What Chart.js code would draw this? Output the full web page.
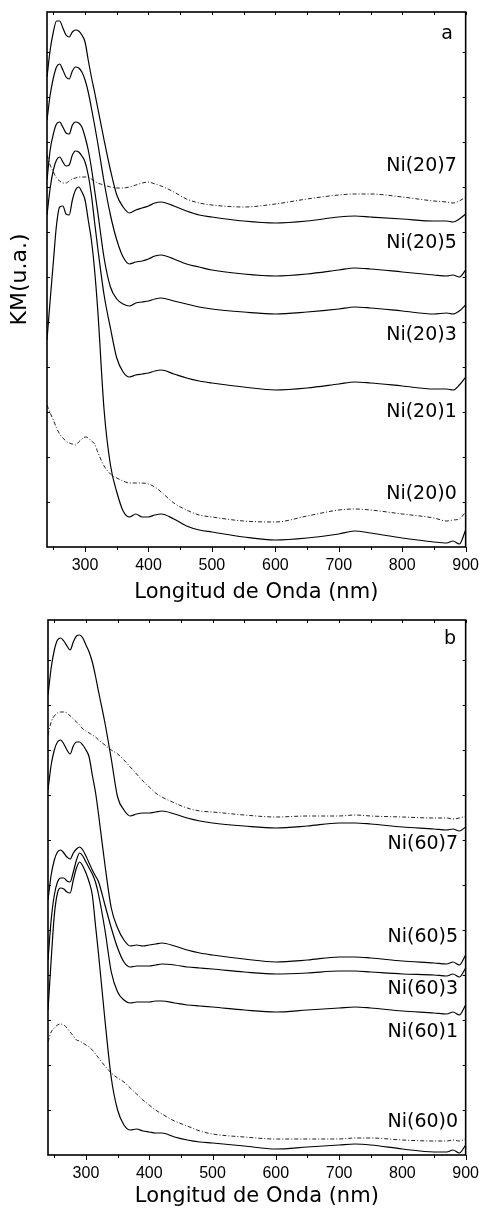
<!DOCTYPE html>
<html><head><meta charset="utf-8">
<script src="https://cdn.jsdelivr.net/npm/chart.js@4.4.1/dist/chart.umd.min.js"></script>
<style>
html,body{margin:0;padding:0;background:#fff;}
#wrap{position:relative;width:488px;height:1209px;overflow:hidden;}
#ca{position:absolute;left:0;top:0;}
#cb{position:absolute;left:0;top:605px;}
</style></head><body>
<div id="wrap"><canvas id="ca" width="488" height="605"></canvas><canvas id="cb" width="488" height="604"></canvas></div>
<script>
// ---- shared wavelength grid (nm) ----
const wavelengths = [240,245,250,255,260,265,270,275,280,285,290,295,300,305,310,315,320,330,340,350,360,370,380,390,400,410,420,440,460,480,500,550,600,650,700,725,750,800,850,870,880,890,900];

// ---- panel a series (KM, u.a.) ----
const ni20_7 = [470,497,515,526,526,519,512,510,515,517,516,512,505,487,470,455,439,407,377,352,340,334,337,339,341,344,345,341,336,332,330,326,324,326,330,331,330,328,326,326,325,328,333];
const ni20_5 = [427,452,469,480,483,477,470,468,476,480,479,475,467,455,439,422,404,365,332,307,290,283,285,286,288,291,292,288,283,280,277,273,271,273,277,279,278,275,272,271,272,270,277];
const ni20_3 = [367,397,413,423,425,420,414,413,422,425,424,420,410,397,379,357,335,289,260,248,243,241,244,245,246,248,249,246,243,240,238,235,233,235,238,240,239,236,233,234,233,236,242];
const ni20_1 = [332,359,377,387,390,385,381,382,392,396,395,391,385,372,352,325,299,252,219,189,175,170,172,173,174,176,177,173,169,166,164,160,157,159,163,165,164,161,158,158,157,162,170];
const ni20_0 = [207,247,285,322,340,341,333,332,347,357,360,355,347,327,307,277,237,137,82,55,36,30,33,30,30,32,33,28,21,17,15,10,7,9,13,16,14,9,5,4,6,3,17];
const ref20_hi = [392,382,375,369,366,364,364,366,368,369,370,370,370,370,368,366,364,362,360,359,359,360,362,364,365,363,361,355,348,344,342,340,343,348,352,353,353,350,346,345,344,346,350];
const ref20_lo = [142,134,127,119,113,109,106,104,103,102,105,108,110,109,106,103,95,81,73,69,66,64,64,64,63,60,55,44,37,32,30,26,25,31,37,38,37,33,29,26,27,28,35];

// ---- panel b series (KM, u.a.) ----
const ni60_7 = [460,487,505,515,517,514,509,505,513,519,520,517,510,503,493,479,463,432,396,358,345,339,341,342,342,343,344,341,337,334,332,329,327,329,332,332,331,328,326,325,326,324,328];
const ni60_5 = [365,390,405,413,415,411,405,401,409,413,413,410,405,398,380,363,340,290,247,227,215,209,210,209,210,211,212,209,205,202,200,196,193,195,198,198,197,194,192,191,193,190,200];
const ni60_3 = [255,280,295,303,305,302,298,296,302,306,308,305,299,292,285,279,273,250,227,207,193,188,189,189,189,190,191,190,188,187,186,183,181,182,184,184,183,181,180,179,181,178,187];
const ni60_1 = [195,235,260,273,277,277,274,273,283,295,302,299,293,287,281,273,260,225,183,163,155,152,153,153,153,154,154,152,150,149,148,145,143,145,147,148,147,144,142,141,143,140,150];
const ni60_0 = [145,195,240,262,267,266,263,262,275,287,293,289,282,273,260,230,200,135,77,45,30,25,26,24,23,22,22,18,15,13,12,9,6,8,10,11,10,6,3,3,5,2,10];
const ref60_hi = [420,433,439,442,443,443,442,439,436,433,430,426,424,422,420,418,415,410,405,401,395,388,381,374,368,362,358,352,347,344,343,340,338,339,339,340,339,338,337,337,336,337,339];
const ref60_lo = [113,123,127,130,131,130,127,123,119,115,114,112,110,108,105,101,97,89,82,77,73,67,61,55,50,45,41,34,29,24,21,18,16,16,16,17,17,15,14,14,15,14,16];

// ---- ticks ----
const xTickLabels = [300,400,500,600,700,800,900];
const xMinorTicks = [250,300,350,400,450,500,550,600,650,700,750,800,850,900];
const yMinorTicks = [45,90,135,180,225,270,315,360,405,450,495];

// ---- curve labels (text, anchor wavelength, KM level) ----
const labelsA = ['Ni(20)7','Ni(20)5','Ni(20)3','Ni(20)1','Ni(20)0'];
const labelLevelsA = [381,304,212,135,53];
const labelsB = ['Ni(60)7','Ni(60)5','Ni(60)3','Ni(60)1','Ni(60)0'];
const labelLevelsB = [311,218,166,123,33];

function pts(vals){ return wavelengths.map((w,i)=>({x:w,y:vals[i]})); }
function solid(label, vals){ return {label, data: pts(vals), borderColor:'#000', borderWidth:1.2, pointRadius:0, fill:false, cubicInterpolationMode:'monotone'}; }
function dashdot(label, vals){ return {label, data: pts(vals), borderColor:'#222', borderWidth:1, borderDash:[4,2,1,2], pointRadius:0, fill:false, cubicInterpolationMode:'monotone'}; }

function decor(cfg){
  return {
    id:'decor'+cfg.panel,
    afterDatasetsDraw(chart){
      const {ctx, chartArea:ca, scales:{x,y}} = chart;
      ctx.save();
      ctx.strokeStyle='#000';
      ctx.lineWidth=1;
      ctx.beginPath();
      for(const v of xMinorTicks){
        const px=Math.round(x.getPixelForValue(v))+0.5;
        ctx.moveTo(px,ca.top); ctx.lineTo(px,ca.top+3);
        ctx.moveTo(px,ca.bottom); ctx.lineTo(px,ca.bottom+(xTickLabels.includes(v)?5:3));
      }
      for(const v of yMinorTicks){
        const py=Math.round(y.getPixelForValue(v))+0.5;
        ctx.moveTo(ca.left,py); ctx.lineTo(ca.left+3,py);
        ctx.moveTo(ca.right,py); ctx.lineTo(ca.right-3,py);
      }
      ctx.stroke();
      ctx.lineWidth=1.6;
      ctx.strokeRect(ca.left,ca.top,ca.right-ca.left,ca.bottom-ca.top);
      ctx.fillStyle='#000';
      ctx.font='19px "DejaVu Sans"';
      ctx.textAlign='right'; ctx.textBaseline='middle';
      cfg.labels.forEach((t,i)=>ctx.fillText(t, x.getPixelForValue(cfg.labelX), y.getPixelForValue(cfg.levels[i])));
      ctx.fillText(cfg.panel, x.getPixelForValue(cfg.panelX), y.getPixelForValue(cfg.panelY));
      ctx.restore();
    }
  };
}

function makeChart(id, datasets, o){
  return new Chart(document.getElementById(id), {
    type:'line',
    data:{datasets},
    options:{
      responsive:false, animation:false, devicePixelRatio:1,
      layout:{padding:{top:o.padTop,right:o.padRight,left:0,bottom:0}},
      plugins:{legend:{display:false}, tooltip:{enabled:false}},
      scales:{
        x:{type:'linear', min:240, max:900,
           grid:{display:false, drawTicks:false}, border:{display:false},
           afterBuildTicks:(s)=>{ s.ticks = xTickLabels.map(v=>({value:v})); },
           afterFit:(s)=>{ s.height=o.xHeight; },
           ticks:{autoSkip:false, maxRotation:0, padding:9, color:'#000', font:{family:'Arial', size:16}},
           title:{display:true, text:'Longitud de Onda (nm)', color:'#000', padding:{top:0,bottom:0}, font:{family:'DejaVu Sans', size:21, lineHeight:1.2}}
        },
        y:{type:'linear', min:0, max:535,
           grid:{display:false, drawTicks:false}, border:{display:false},
           ticks:{display:false},
           afterFit:(s)=>{ s.width=o.yWidth; },
           title:{display:o.yTitle, text:'KM(u.a.)', color:'#000', padding:{top:7,bottom:0}, font:{family:'DejaVu Sans', size:22, lineHeight:1.2}}
        }
      }
    },
    plugins:[decor(o.decor)]
  });
}

makeChart('ca', [
  solid('Ni(20)7', ni20_7), solid('Ni(20)5', ni20_5), solid('Ni(20)3', ni20_3),
  solid('Ni(20)1', ni20_1), solid('Ni(20)0', ni20_0),
  dashdot('ref alto', ref20_hi), dashdot('ref bajo', ref20_lo)
], {padTop:12, padRight:15, xHeight:58, yWidth:47, yTitle:true,
    decor:{panel:'a', labels:labelsA, levels:labelLevelsA, labelX:886, panelX:880, panelY:513}});

makeChart('cb', [
  solid('Ni(60)7', ni60_7), solid('Ni(60)5', ni60_5), solid('Ni(60)3', ni60_3),
  solid('Ni(60)1', ni60_1), solid('Ni(60)0', ni60_0),
  dashdot('ref alto', ref60_hi), dashdot('ref bajo', ref60_lo)
], {padTop:15, padRight:20, xHeight:54, yWidth:48, yTitle:false,
    decor:{panel:'b', labels:labelsB, levels:labelLevelsB, labelX:888, panelX:885, panelY:516}});
</script>
</body></html>
